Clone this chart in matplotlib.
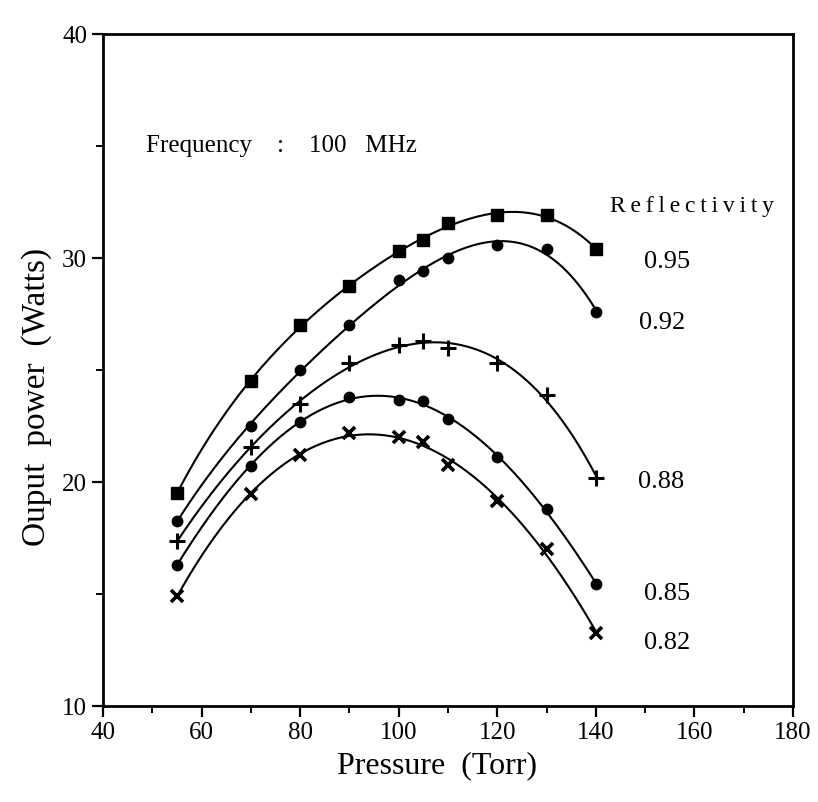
import numpy as np
import matplotlib
matplotlib.use('Agg')
import matplotlib.pyplot as plt
from matplotlib.ticker import MultipleLocator

plt.rcParams['font.family'] = ['Liberation Serif', 'DejaVu Serif']

# pressure samples (Torr)
pressure = [55, 70, 80, 90, 100, 105, 110, 120, 130, 140]

# output power (Watts) for each reflectivity
p_095 = [19.5, 24.5, 27.0, 28.75, 30.3, 30.8, 31.55, 31.9, 31.9, 30.4]
p_092 = [18.25, 22.5, 25.0, 27.0, 29.0, 29.4, 30.0, 30.6, 30.4, 27.6]
p_088 = [17.35, 21.55, 23.5, 25.3, 26.1, 26.3, 26.0, 25.3, 23.9, 20.2]
p_085 = [16.3, 20.7, 22.7, 23.8, 23.65, 23.6, 22.8, 21.1, 18.8, 15.45]
p_082 = [14.9, 19.45, 21.2, 22.2, 22.0, 21.8, 20.75, 19.15, 17.0, 13.25]

labels = ['0.95', '0.92', '0.88', '0.85', '0.82']
series = [p_095, p_092, p_088, p_085, p_082]
markers = [('s', 9, 1.0), ('o', 7.5, 1.0), ('+', 12, 2.2), ('o', 7.5, 1.0), ('x', 9, 2.6)]
label_pos = [(154.5, 29.8), (153.5, 27.1), (153.2, 20.0), (154.5, 15.0), (154.5, 12.8)]

thin = '\u2009'

fig = plt.figure(figsize=(8.18, 8.02), dpi=100)
ax = fig.add_axes([0.1259, 0.1197, 0.8435, 0.8379])

x = np.array(pressure, dtype=float)
xs = np.linspace(x.min(), x.max(), 200)
for vals, (m, ms, mew), lab, (lx, ly) in zip(series, markers, labels, label_pos):
    y = np.array(vals)
    coef = np.polyfit(x, y, 4)
    ax.plot(xs, np.polyval(coef, xs), color='black', lw=1.5, zorder=2)
    ax.plot(x, y, linestyle='none', marker=m, ms=ms, mew=mew,
            color='black', mfc='black', zorder=3)
    ax.text(lx, ly, lab, fontsize=19, ha='center', va='center')

ax.text(48.7, 35.0, 'Frequency    :    100   MHz', fontsize=18, ha='left', va='center')
ax.text(159.6, 32.3, thin.join('Reflectivity'), fontsize=17, ha='center', va='center')

ax.set_xlim(40, 180)
ax.set_ylim(10, 40)
ax.xaxis.set_major_locator(MultipleLocator(20))
ax.xaxis.set_minor_locator(MultipleLocator(10))
ax.yaxis.set_major_locator(MultipleLocator(10))
ax.yaxis.set_minor_locator(MultipleLocator(5))
ax.tick_params(which='major', direction='out', length=8, width=1.6, labelsize=18, top=False, right=False)
ax.tick_params(which='minor', direction='out', length=5, width=1.4, top=False, right=False)
for s in ax.spines.values():
    s.set_linewidth(2.0)

ax.set_xlabel('Pressure  (Torr)', fontsize=23)
ax.set_ylabel('Ouput  power  (Watts)', fontsize=24)
ax.xaxis.set_label_coords(0.484, -0.068)
ax.yaxis.set_label_coords(-0.074, 0.46)

fig.savefig('out.png', dpi=100)
